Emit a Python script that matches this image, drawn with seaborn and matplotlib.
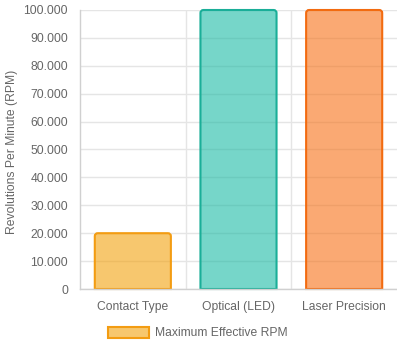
import matplotlib
matplotlib.use("Agg")
import matplotlib.pyplot as plt
import seaborn as sns
import pandas as pd
from matplotlib.patches import Patch, PathPatch
from matplotlib.path import Path
from matplotlib.ticker import FuncFormatter, MultipleLocator

categories = ["Contact Type", "Optical (LED)", "Laser Precision"]
max_rpm = [20000, 100000, 100000]
base_colors = ["#f3a20d", "#1bbba5", "#f77116"]
edge_colors = ["#f39c12", "#1aae98", "#f26b10"]
series_label = "Maximum Effective RPM"

df = pd.DataFrame({"category": categories, "rpm": max_rpm})

sns.set_style("white")
plt.rcParams["font.family"] = ["Liberation Sans", "DejaVu Sans"]
FS = 8.7
TXT = "#666666"
GRID = "#e5e5e5"
PX = 72 / 100  # points per pixel at 100 dpi

fig = plt.figure(figsize=(3.97, 3.5), dpi=100)
ax = fig.add_axes([80 / 397, 61 / 350, 317 / 397, 279 / 350])

sns.barplot(data=df, x="category", y="rpm", hue="category", palette=base_colors,
            saturation=1, legend=False, width=0.72, ax=ax, linewidth=0)
ax.set_xlim(-0.5, 2.5)
ax.set_ylim(0, 100000)


def rounded_top(x0, y0, w, h, rx, ry):
    x1, y1 = x0 + w, y0 + h
    verts = [(x0, y0), (x0, y1 - ry), (x0, y1), (x0 + rx, y1), (x1 - rx, y1),
             (x1, y1), (x1, y1 - ry), (x1, y0), (x0, y0)]
    codes = [Path.MOVETO, Path.LINETO, Path.CURVE3, Path.CURVE3, Path.LINETO,
             Path.CURVE3, Path.CURVE3, Path.LINETO, Path.CLOSEPOLY]
    return Path(verts, codes)


# swap plain rectangles for bars with softly rounded top corners
rx = 3 * 3 / 317
ry = 3 * 100000 / 279
for rect, fc, ec in zip(list(ax.patches), base_colors, edge_colors):
    x0, y0 = rect.get_x(), rect.get_y()
    w, h = rect.get_width(), rect.get_height()
    rect.remove()
    bar = PathPatch(rounded_top(x0, y0, w, h, rx, ry), facecolor=matplotlib.colors.to_rgba(fc, 0.6),
                    edgecolor=ec, linewidth=1.5, clip_on=False, zorder=2)
    ax.add_patch(bar)

ax.yaxis.set_major_locator(MultipleLocator(10000))
ax.yaxis.set_major_formatter(FuncFormatter(lambda v, p: f"{int(v):,}".replace(",", ".")))

ax.grid(axis="y", color=GRID, linewidth=1, zorder=0)
for xb in [0.5, 1.5]:
    ax.axvline(xb, color=GRID, linewidth=1, zorder=0)
ax.set_axisbelow(True)

for s in ["top", "right"]:
    ax.spines[s].set_visible(False)
for s in ["left", "bottom"]:
    ax.spines[s].set_color("#d0d0d0")
    ax.spines[s].set_linewidth(1)

ax.tick_params(axis="y", length=8 * PX, color=GRID, labelsize=FS, labelcolor=TXT, pad=4 * PX)
ax.set_xticks(range(len(categories)))
ax.set_xticklabels(categories)
ax.tick_params(axis="x", length=0, labelsize=FS, labelcolor=TXT, pad=12 * PX)
ax.set_xticks([-0.5, 0.5, 1.5], minor=True)
ax.tick_params(axis="x", which="minor", length=8 * PX, color=GRID)

ax.set_xlabel("")
ax.set_ylabel("Revolutions Per Minute (RPM)", fontsize=FS, color=TXT)
ax.yaxis.set_label_coords(-62 / 317, 0.49)

handle = Patch(facecolor=matplotlib.colors.to_rgba(base_colors[0], 0.6),
               edgecolor=edge_colors[0], linewidth=1.5)
fig.legend([handle], [series_label], loc="center", bbox_to_anchor=(198 / 397, 1 - 333 / 350),
           frameon=False, fontsize=FS, labelcolor=TXT, handlelength=3.4, handleheight=1.05,
           handletextpad=0.5)

fig.savefig("out.png", dpi=100)
